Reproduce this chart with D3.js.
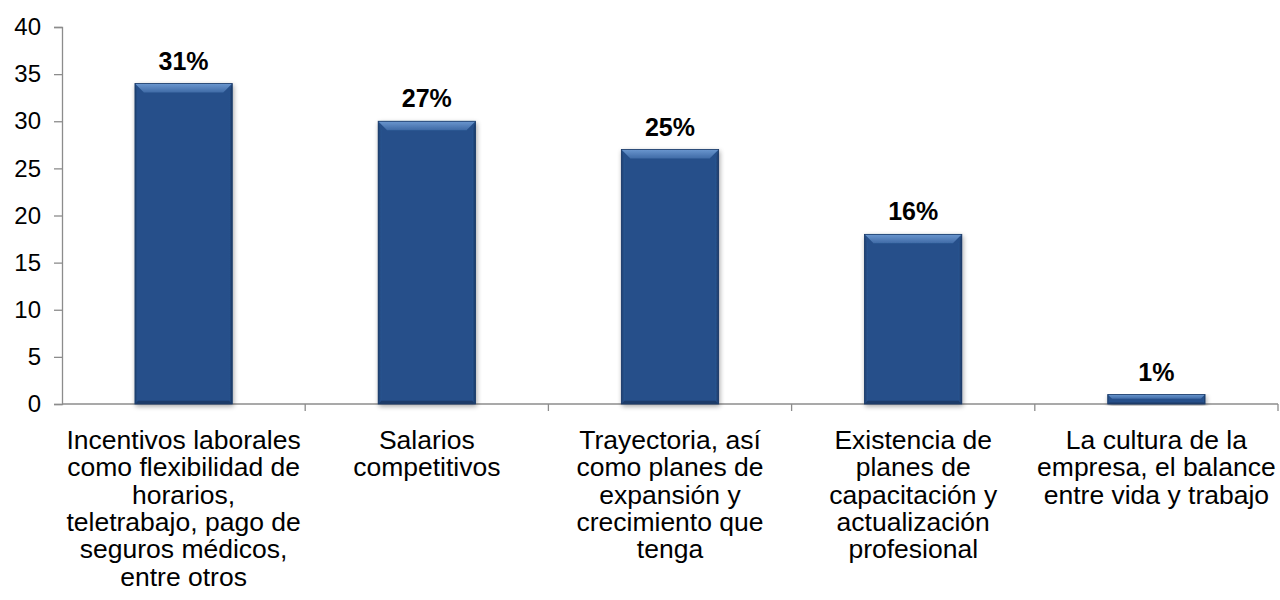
<!DOCTYPE html>
<html>
<head>
<meta charset="utf-8">
<script src="https://cdn.jsdelivr.net/npm/d3@7"></script>
<style>
  html, body { margin: 0; padding: 0; background: #fff; }
  svg { display: block; font-family: "Liberation Sans", Arial, sans-serif; }
</style>
</head>
<body>
<svg id="chart" width="1280" height="600"></svg>
<script>
// Category names, with line breaks where the axis labels wrap
const categories = [
  "Incentivos laborales\ncomo flexibilidad de\nhorarios,\nteletrabajo, pago de\nseguros médicos,\nentre otros",
  "Salarios\ncompetitivos",
  "Trayectoria, así\ncomo planes de\nexpansión y\ncrecimiento que\ntenga",
  "Existencia de\nplanes de\ncapacitación y\nactualización\nprofesional",
  "La cultura de la\nempresa, el balance\nentre vida y trabajo"
];
// Number of responses per category
const values = [34, 30, 27, 18, 1];
// Y axis ticks
const yTicks = [0, 5, 10, 15, 20, 25, 30, 35, 40];

const total = d3.sum(values);
const pctLabels = values.map(v => Math.round(v / total * 100) + "%");

const svg = d3.select("#chart");
const margin = { left: 62, right: 2, top: 27, bottom: 196 };
const W = 1280, H = 600;

const x = d3.scaleBand()
  .domain(d3.range(categories.length))
  .range([margin.left, W - margin.right])
  .paddingInner(0.6)
  .paddingOuter(0.3);

const y = d3.scaleLinear()
  .domain([0, 40])
  .range([H - margin.bottom, margin.top]);

const defs = svg.append("defs");
const shadow = defs.append("filter").attr("id", "shadow")
  .attr("x", "-20%").attr("y", "-20%").attr("width", "140%").attr("height", "140%");
shadow.append("feGaussianBlur").attr("in", "SourceAlpha").attr("stdDeviation", 2.5);
shadow.append("feOffset").attr("dx", 1).attr("dy", 2).attr("result", "ob");
shadow.append("feComponentTransfer").append("feFuncA").attr("type", "linear").attr("slope", 0.35);
const merge = shadow.append("feMerge");
merge.append("feMergeNode");
merge.append("feMergeNode").attr("in", "SourceGraphic");

const gTop = defs.append("linearGradient").attr("id", "gTop").attr("x1", 0).attr("y1", 0).attr("x2", 0).attr("y2", 1);
gTop.append("stop").attr("offset", 0).attr("stop-color", "#6b97cf");
gTop.append("stop").attr("offset", 1).attr("stop-color", "#3f6aa6");
const gLeft = defs.append("linearGradient").attr("id", "gLeft").attr("x1", 0).attr("y1", 0).attr("x2", 1).attr("y2", 0);
gLeft.append("stop").attr("offset", 0).attr("stop-color", "#1d3f70");
gLeft.append("stop").attr("offset", 1).attr("stop-color", "#2a5490");
const gRight = defs.append("linearGradient").attr("id", "gRight").attr("x1", 0).attr("y1", 0).attr("x2", 1).attr("y2", 0);
gRight.append("stop").attr("offset", 0).attr("stop-color", "#2a5490");
gRight.append("stop").attr("offset", 1).attr("stop-color", "#1a3864");

// Y axis
const yAxis = svg.append("g")
  .attr("transform", `translate(${margin.left},0)`)
  .call(d3.axisLeft(y).tickValues(yTicks).tickSize(8).tickPadding(13));
yAxis.select(".domain").attr("stroke", "#8c8c8c").attr("stroke-width", 1.3);
yAxis.selectAll(".tick line").attr("stroke", "#8c8c8c").attr("stroke-width", 1.3);
yAxis.selectAll(".tick text")
  .attr("fill", "#000").attr("font-size", 24)
  .attr("font-family", "'Liberation Sans', Arial, sans-serif");

// X axis baseline with ticks at category boundaries
const xBase = y(0);
const boundaries = d3.range(categories.length + 1).map(i => margin.left + i * x.step());
svg.append("line")
  .attr("x1", margin.left).attr("x2", W - margin.right)
  .attr("y1", xBase).attr("y2", xBase)
  .attr("stroke", "#8c8c8c").attr("stroke-width", 1.3);
svg.selectAll(".xtick").data(boundaries.slice(1)).join("line")
  .attr("class", "xtick")
  .attr("x1", d => d).attr("x2", d => d)
  .attr("y1", xBase).attr("y2", xBase + 7)
  .attr("stroke", "#8c8c8c").attr("stroke-width", 1.3);

// Bars with a bevelled edge
const bars = svg.selectAll(".bar").data(values).join("g")
  .attr("class", "bar")
  .attr("filter", "url(#shadow)");

bars.each(function(v, i) {
  const g = d3.select(this);
  const x0 = x(i), w = x.bandwidth();
  const y0 = y(v), y1 = y(0), h = y1 - y0;
  const b = Math.min(9, h / 2.2, w / 4);
  g.append("rect").attr("x", x0).attr("y", y0).attr("width", w).attr("height", h).attr("fill", "#26508a");
  // top bevel
  g.append("polygon").attr("fill", "url(#gTop)")
    .attr("points", [[x0, y0], [x0 + w, y0], [x0 + w - b, y0 + b], [x0 + b, y0 + b]].join(" "));
  // left bevel
  g.append("polygon").attr("fill", "url(#gLeft)")
    .attr("points", [[x0, y0], [x0 + b * 0.35, y0 + b], [x0 + b * 0.35, y1 - b * 0.35], [x0, y1]].join(" "));
  // right bevel
  g.append("polygon").attr("fill", "url(#gRight)")
    .attr("points", [[x0 + w, y0], [x0 + w - b * 0.35, y0 + b], [x0 + w - b * 0.35, y1 - b * 0.35], [x0 + w, y1]].join(" "));
  // bottom bevel
  g.append("polygon").attr("fill", "#1b3b69")
    .attr("points", [[x0, y1], [x0 + b * 0.35, y1 - b * 0.35], [x0 + w - b * 0.35, y1 - b * 0.35], [x0 + w, y1]].join(" "));
  g.append("rect").attr("x", x0).attr("y", y0).attr("width", w).attr("height", h)
    .attr("fill", "none").attr("stroke", "#1a3a68").attr("stroke-width", 0.8);
});

// Percentage labels above the bars
svg.selectAll(".pct").data(values).join("text")
  .attr("class", "pct")
  .attr("x", (d, i) => x(i) + x.bandwidth() / 2)
  .attr("y", d => y(d) - 14)
  .attr("text-anchor", "middle")
  .attr("font-size", 25).attr("font-weight", "bold").attr("fill", "#000")
  .text((d, i) => pctLabels[i]);

// Category labels below the axis
const catText = svg.selectAll(".cat").data(categories).join("text")
  .attr("class", "cat")
  .attr("text-anchor", "middle")
  .attr("font-size", 26.5).attr("fill", "#000")
  .attr("transform", (d, i) => `translate(${x(i) + x.bandwidth() / 2},${xBase + 45})`);
catText.each(function(d) {
  const t = d3.select(this);
  d.split("\n").forEach((line, k) => {
    t.append("tspan").attr("x", 0).attr("y", k * 27.3).text(line);
  });
});
</script>
</body>
</html>
